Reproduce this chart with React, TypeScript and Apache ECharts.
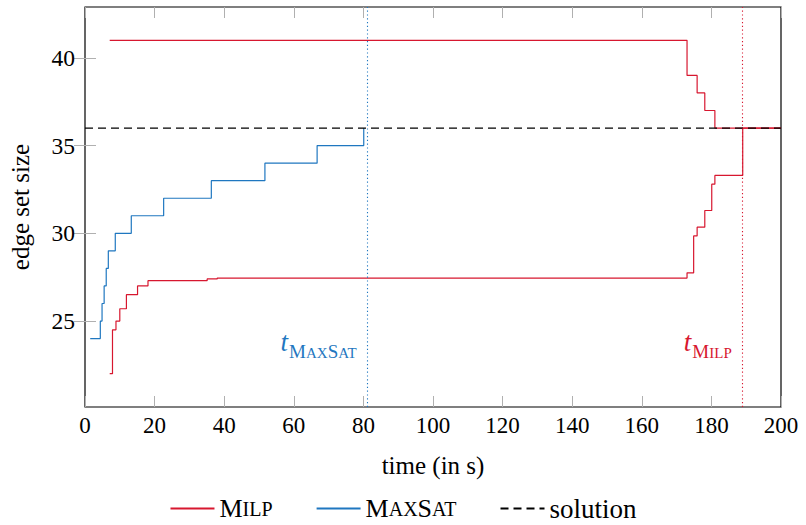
import React, { useEffect, useRef } from "react";
import * as echarts from "echarts";

// ---- data ----
const maxsatT = [1.5, 4.4, 4.9, 5.5, 6.1, 6.7, 8.7, 13.3, 22.6, 36.3, 51.7, 66.7, 80.1];
const maxsatV = [24, 25, 26, 27, 28, 29, 30, 31, 32, 33, 34, 35, 36];

const milpUpperT = [7.1, 173, 175.9, 178.1, 181, 200];
const milpUpperV = [41, 39, 38, 37, 36, 36];

const milpLowerT = [7.1, 7.9, 8.9, 10, 11.9, 15.1, 18.1, 35.1, 38, 173, 174.9, 175.9, 178.1, 180.1, 181, 189, 200];
const milpLowerV = [22, 24.5, 25, 25.7, 26.5, 27, 27.3, 27.4, 27.45, 27.75, 29.85, 30.35, 31.3, 32.8, 33.3, 36, 36];

const solutionT = [0, 200];
const solutionV = [36, 36];

const tMaxSat = 81.2;
const tMilp = 189;
const annotationY = 23.6;

const yTicks = [25, 30, 35, 40];

const RED = "#d7172f";
const BLUE = "#1f77c0";
const FONT = "'Liberation Serif', serif";

const zip = (a: number[], b: number[]) => a.map((x, i) => [x, b[i]]);

export default function App() {
  const ref = useRef<HTMLDivElement>(null);
  useEffect(() => {
    if (!ref.current) return;
    const chart = echarts.init(ref.current, undefined, { renderer: "svg" });
    const tickStyle = { show: true, inside: true, length: 11, lineStyle: { color: "#b0b0b0", width: 1 } };
    const subRich = (color: string) => ({
      t: { fontFamily: FONT, fontStyle: "italic", fontSize: 27, color, verticalAlign: "bottom", lineHeight: 30, padding: [0, 1, 5, 0] },
      S: { fontFamily: FONT, fontSize: 19, color, verticalAlign: "bottom", lineHeight: 19 },
      c: { fontFamily: FONT, fontSize: 15, color, verticalAlign: "bottom", lineHeight: 19 },
    });
    const option: any = {
      animation: false,
      textStyle: { fontFamily: FONT },
      grid: {
        left: 85, right: 25, top: 7, bottom: 118, containLabel: false, outerBoundsMode: "none",
        show: true, borderColor: "#000", borderWidth: 1.2, backgroundColor: "transparent",
      },
      xAxis: [
        {
          type: "value", min: 0, max: 200, interval: 20,
          name: "time (in s)", nameLocation: "middle", nameGap: 46,
          nameTextStyle: { fontFamily: FONT, fontSize: 25, color: "#000" },
          axisLine: { show: false }, axisTick: tickStyle,
          axisLabel: { fontFamily: FONT, fontSize: 23, color: "#000", margin: 7 },
          splitLine: { show: false },
        },
        {
          type: "value", min: 0, max: 200, interval: 20, position: "top",
          axisLine: { show: false }, axisTick: tickStyle, axisLabel: { show: false }, splitLine: { show: false },
        },
      ],
      yAxis: [
        {
          type: "value", min: 20.1, max: 42.9,
          name: "edge set size", nameLocation: "middle", nameGap: 52,
          nameTextStyle: { fontFamily: FONT, fontSize: 25, color: "#000" },
          axisLine: { show: false },
          axisTick: { ...tickStyle, customValues: yTicks },
          axisLabel: { fontFamily: FONT, fontSize: 23.5, color: "#000", margin: 10, customValues: yTicks },
          splitLine: { show: false },
        },
        {
          type: "value", min: 20.1, max: 42.9, position: "right",
          axisLine: { show: false },
          axisTick: { ...tickStyle, customValues: yTicks },
          axisLabel: { show: false, customValues: yTicks },
          splitLine: { show: false },
        },
      ],
      legend: {
        top: 490, left: "center",
        itemWidth: 44, itemHeight: 14, itemGap: 43,
        itemStyle: { opacity: 0 },
        data: ["Milp", "MaxSat", "solution"],
        formatter: (name: string) => {
          if (name === "Milp") return "{S|M}{c|ILP}";
          if (name === "MaxSat") return "{S|M}{c|AX}{S|S}{c|AT}";
          return "{n|solution}";
        },
        textStyle: {
          fontFamily: FONT, fontSize: 26, color: "#000", padding: [0, 0, 0, 0],
          rich: {
            S: { fontFamily: FONT, fontSize: 26, color: "#000" },
            c: { fontFamily: FONT, fontSize: 20, color: "#000" },
            n: { fontFamily: FONT, fontSize: 27, color: "#000" },
          },
        },
      },
      series: [
        {
          name: "Milp", type: "line", step: "end", symbol: "none", showSymbol: false,
          data: zip(milpUpperT, milpUpperV),
          lineStyle: { color: RED, width: 1.2 }, itemStyle: { color: RED },
          markLine: {
            silent: true, symbol: ["none", "none"], label: { show: false },
            lineStyle: { color: RED, type: [1.2, 2.6], width: 1.1 },
            data: [{ xAxis: tMilp }],
          },
          markPoint: {
            symbol: "circle", symbolSize: 0,
            data: [{ coord: [tMilp, annotationY] }],
            label: {
              show: true, position: "left", distance: 11,
              formatter: "{t|t}{S|M}{c|ILP}",
              rich: subRich(RED),
            },
          },
        },
        {
          name: "Milp", type: "line", step: "end", symbol: "none", showSymbol: false,
          data: zip(milpLowerT, milpLowerV),
          lineStyle: { color: RED, width: 1.2 }, itemStyle: { color: RED },
        },
        {
          name: "MaxSat", type: "line", step: "end", symbol: "none", showSymbol: false,
          data: zip(maxsatT, maxsatV),
          lineStyle: { color: BLUE, width: 1.2 }, itemStyle: { color: BLUE },
          markLine: {
            silent: true, symbol: ["none", "none"], label: { show: false },
            lineStyle: { color: BLUE, type: [1.2, 2.6], width: 1.1 },
            data: [{ xAxis: tMaxSat }],
          },
          markPoint: {
            symbol: "circle", symbolSize: 0,
            data: [{ coord: [tMaxSat, annotationY] }],
            label: {
              show: true, position: "left", distance: 11,
              formatter: "{t|t}{S|M}{c|AX}{S|S}{c|AT}",
              rich: subRich(BLUE),
            },
          },
        },
        {
          name: "solution", type: "line", symbol: "none", showSymbol: false,
          data: zip(solutionT, solutionV),
          lineStyle: { color: "#000", width: 1.2, type: [8, 5] }, itemStyle: { color: "#000" },
        },
      ],
    };
    chart.setOption(option);
    return () => chart.dispose();
  }, []);
  return (
    <div
      ref={ref}
      style={{ position: "fixed", left: 0, top: 0, width: 806, height: 525, background: "#fff" }}
    />
  );
}
